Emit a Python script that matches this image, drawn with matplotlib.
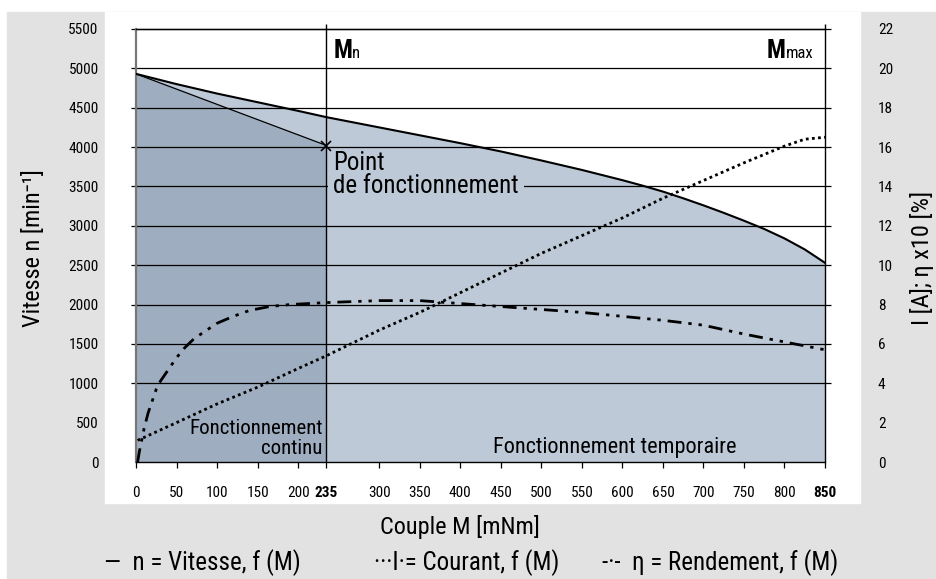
import matplotlib
matplotlib.use('Agg')
import matplotlib.pyplot as plt
from matplotlib import font_manager as fm
from matplotlib.patches import Rectangle

# pick a condensed font if there is one
names = {f.name for f in fm.fontManager.ttflist}
narrow = next((n for n in ['Liberation Sans Narrow', 'Roboto Condensed', 'Open Sans Condensed']
               if n in names), 'Liberation Sans')
plt.rcParams['font.family'] = [narrow, 'DejaVu Sans']

# data
torque = [0, 50, 100, 150, 200, 235, 300, 350, 400, 450, 500, 550, 600, 625, 650, 675, 700,
          725, 750, 775, 800, 825, 850]
speed = [4930, 4800, 4680, 4570, 4460, 4380, 4250, 4150, 4050, 3945, 3830, 3710, 3580, 3510, 3435,
         3350, 3260, 3165, 3065, 2960, 2840, 2700, 2530]

current_m = [2, 50, 100, 150, 200, 235, 300, 350, 400, 450, 500, 550, 600, 650, 700, 750, 800, 825, 850]
current = [1.1, 2.0, 2.95, 3.8, 4.75, 5.4, 6.7, 7.6, 8.6, 9.6, 10.6, 11.5, 12.4, 13.4, 14.3, 15.2, 16.05, 16.4, 16.5]

eff_m = [2, 4, 7, 10, 15, 20, 25, 30, 40, 50, 60, 70, 80, 100, 120, 140, 165, 190, 235, 300, 350,
         400, 450, 500, 550, 600, 650, 700, 750, 800, 850]
eff = [0, 5, 11, 17, 25, 31, 37, 41, 47, 53, 58, 62, 65, 70.5, 74, 77, 79, 80, 81, 82, 82,
       80.5, 79, 77.5, 76, 74, 72, 69.5, 65, 61, 57]

m_nom = 235
m_max = 850
op_speed = 4020

xticks = [0, 50, 100, 150, 200, 235, 300, 350, 400, 450, 500, 550, 600, 650, 700, 750, 800, 850]
yticks = list(range(0, 5501, 500))
grid_levels = [y for y in yticks if y not in (0, 500)]
yticks_r = list(range(0, 23, 2))

dark = '#9eadbf'
light = '#bdc9d6'
grey_bg = '#e2e2e2'

W, H = 936, 579
fig = plt.figure(figsize=(W / 100, H / 100), dpi=100)
fig.patch.set_facecolor('white')


def fx(x):
    return x / W


def fy(y):
    return 1 - y / H


fig.patches.append(Rectangle((fx(7), 0), 1 - fx(7), fy(12), transform=fig.transFigure,
                             color=grey_bg, zorder=-2))
fig.patches.append(Rectangle((fx(105), fy(503)), fx(860) - fx(105), fy(12) - fy(503),
                             transform=fig.transFigure, color='white', zorder=-1))

ax = fig.add_axes([fx(136), fy(462), fx(825) - fx(136), fy(29) - fy(462)])
ax.set_xlim(0, 850)
ax.set_ylim(0, 5500)

# fills
ax.fill_between(torque, speed, color=light, lw=0, zorder=1)
ax.fill_between([0, m_nom], [speed[0], op_speed], color=dark, lw=0, zorder=1)

# grid lines, a bit longer than the plot on both sides
ax.hlines(grid_levels, -6, 857, colors='black', lw=0.9, clip_on=False, zorder=2)
ax.vlines([m_nom, m_max], 0, 5565, colors='black', lw=1.0, clip_on=False, zorder=6)

# curves
ax.plot(torque, speed, color='black', lw=1.5, zorder=4)
ax.plot([0, m_nom], [speed[0], op_speed], color='black', lw=0.9, zorder=4)
ax.plot([m_nom], [op_speed], marker='x', color='black', ms=7, mew=1.2, zorder=7)

ax2 = ax.twinx()
ax2.set_ylim(0, 22)
ax2.plot(current_m, current, color='black', lw=2, linestyle=(0, (1, 1.2)), zorder=4)
ax2.plot(eff_m, [e / 10 for e in eff], color='black', lw=2,
         linestyle=(0, (5, 2.5, 1.2, 2.5, 1.2, 2.5)), zorder=4)

# axes styling
ax.spines['right'].set_visible(False)
for s in ['left', 'top', 'bottom', 'right']:
    ax2.spines[s].set_visible(False)
ax.spines['left'].set_color('#777777')
ax.spines['left'].set_linewidth(1.6)
ax.spines['top'].set_linewidth(1.0)
ax.spines['bottom'].set_linewidth(1.0)

ax.set_xticks(xticks)
ax.set_xticklabels([str(t) for t in xticks], fontsize=11)
for lab in ax.get_xticklabels():
    if lab.get_text() in ('235', '850'):
        lab.set_fontweight('bold')
ax.tick_params(axis='x', length=4, width=0.9, pad=13, colors='black')
ax.set_yticks(yticks)
ax.set_yticklabels([str(t) for t in yticks], fontsize=11)
ax.tick_params(axis='y', length=0, pad=27)
ax2.set_yticks(yticks_r)
ax2.set_yticklabels([str(t) for t in yticks_r], fontsize=11)
ax2.tick_params(axis='y', length=0, pad=38)

# annotations
ax.annotate('M', (m_nom, 5500), xytext=(5, -7), textcoords='offset points',
            fontsize=18, fontweight='bold', va='top', ha='left', zorder=8)
ax.annotate('n', (m_nom, 5500), xytext=(18.5, -12), textcoords='offset points',
            fontsize=12, va='top', ha='left', zorder=8)
ax.annotate('M', (m_max, 5500), xytext=(-42, -7), textcoords='offset points',
            fontsize=18, fontweight='bold', va='top', ha='left', zorder=8)
ax.annotate('max', (m_max, 5500), xytext=(-28.5, -12), textcoords='offset points',
            fontsize=12, va='top', ha='left', zorder=8)

ax.annotate('Point', (m_nom, op_speed), xytext=(5, -4), textcoords='offset points',
            fontsize=18, va='top', ha='left', zorder=5.5)
ax.annotate('de fonctionnement', (m_nom, 3500), xytext=(5, 0), textcoords='offset points',
            fontsize=18, va='center', ha='left', zorder=5,
            bbox=dict(boxstyle='square,pad=0.2', fc=light, ec='none'))
ax.text(m_nom - 5, 300, 'Fonctionnement\ncontinu', fontsize=15, ha='right', va='center',
        linespacing=1.05, zorder=5)
ax.text(741, 190, 'Fonctionnement temporaire', fontsize=16, ha='right', va='center', zorder=5)

# axis titles and legend
fig.text(fx(34), fy(248), 'Vitesse n [min⁻¹]', rotation=90, fontsize=17.5,
         ha='center', va='center')
fig.text(fx(922), fy(258), 'I [A]; η x10 [%]', rotation=90, fontsize=17.5,
         ha='center', va='center')
fig.text(fx(460), fy(527), 'Couple M [mNm]', fontsize=17.5, ha='center', va='center')
fig.text(fx(104), fy(563), '—  n = Vitesse, f (M)', fontsize=18, ha='left', va='center')
fig.text(fx(374), fy(563), '···I·= Courant, f (M)', fontsize=18, ha='left', va='center')
fig.text(fx(602), fy(563), '-·-  η = Rendement, f (M)', fontsize=18, ha='left', va='center')

fig.savefig('out.png', dpi=100, facecolor=fig.get_facecolor())
